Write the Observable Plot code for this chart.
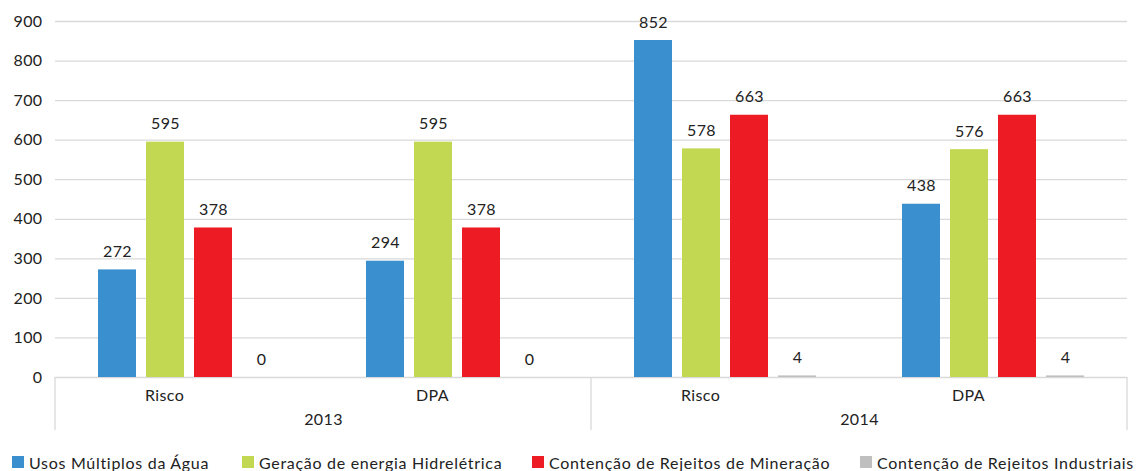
<!DOCTYPE html>
<html><head><meta charset="utf-8">
<script src="https://cdn.jsdelivr.net/npm/d3@7"></script>
<script src="https://cdn.jsdelivr.net/npm/@observablehq/plot@0.6"></script>
<style>
body{margin:0;background:#fff;font-family:Lato,sans-serif;color:#222}
#wrap{position:relative;width:1136px;height:471px;overflow:hidden}
#legend{position:absolute;left:0;top:452px;width:1136px;height:20px;font-size:16px;letter-spacing:0.7px}
.item{position:absolute;top:0;height:20px;display:flex;align-items:center;white-space:nowrap}
.sw{width:12px;height:12px;margin-right:5px}
svg text{letter-spacing:0.4px}
</style></head><body>
<div id="wrap"><div id="chart"></div><div id="legend"></div></div>
<script>
// ---- data ----
const categories = ["2013|Risco", "2013|DPA", "2014|Risco", "2014|DPA"];
const groupLabels = ["Risco", "DPA", "Risco", "DPA"];
const categoryYears = ["2013", "2013", "2014", "2014"];
const years = ["2013", "2014"];
const seriesNames = ["Usos Múltiplos da Água", "Geração de energia Hidrelétrica", "Contenção de Rejeitos de Mineração", "Contenção de Rejeitos Industriais"];
const usosMultiplos = [272, 294, 852, 438];
const geracaoHidreletrica = [595, 595, 578, 576];
const rejeitosMineracao = [378, 378, 663, 663];
const rejeitosIndustriais = [0, 0, 4, 4];
const yTicks = [0, 100, 200, 300, 400, 500, 600, 700, 800, 900];

// ---- styles / layout ----
const seriesColors = ["#3a8fce", "#c2d852", "#ed1c24", "#bfbfbf"];
const legendLeft = [12, 242, 532, 860];

const seriesValues = [usosMultiplos, geracaoHidreletrica, rejeitosMineracao, rejeitosIndustriais];
const rows = [];
seriesNames.forEach((s, si) => categories.forEach((c, ci) => rows.push({cat: c, series: s, value: seriesValues[si][ci]})));
const labelOf = new Map(categories.map((c, i) => [c, groupLabels[i]]));
const yearRows = years.map(y => {
  const idx = categoryYears.map((v, i) => v === y ? i : -1).filter(i => i >= 0);
  return {year: y, anchor: categories[idx[1]]};
});

const chart = Plot.plot({
  width: 1136, height: 440,
  marginLeft: 55, marginRight: 9, marginTop: 21, marginBottom: 63,
  style: {fontFamily: "Lato, sans-serif", fontSize: "16px", color: "#222", background: "#fff"},
  fx: {domain: categories, padding: 0, label: null},
  x: {domain: seriesNames, paddingInner: 0.214, paddingOuter: 0.842, axis: null},
  y: {domain: [0, 900], label: null},
  color: {domain: seriesNames, range: seriesColors},
  marks: [
    Plot.gridY(yTicks, {stroke: "#d9d9d9", strokeOpacity: 1, strokeWidth: 1.3}),
    Plot.axisY(yTicks, {tickSize: 0, tickPadding: 13, fontSize: 16, label: null}),
    Plot.axisFx({anchor: "bottom", tickSize: 0, tickPadding: 12, dx: -25, fontSize: 16, label: null, tickFormat: c => labelOf.get(c)}),
    Plot.barY(rows, {fx: "cat", x: "series", y: "value", fill: "series"}),
    Plot.text(rows, {fx: "cat", x: "series", y: "value", text: d => String(d.value), dy: -18, lineAnchor: "middle", fontSize: 16, fill: "#222"}),
    Plot.text(yearRows, {fx: "anchor", frameAnchor: "bottom-left", textAnchor: "middle", lineAnchor: "top", dy: 36, text: "year", fontSize: 16, fill: "#222"})
  ]
});
document.getElementById("chart").appendChild(chart);

const fx = chart.scale("fx"), ys = chart.scale("y");
const bounds = [];
categories.forEach((c, i) => { if (i === 0 || categoryYears[i] !== categoryYears[i - 1]) bounds.push(fx.apply(c)); });
bounds.push(fx.apply(categories[categories.length - 1]) + fx.bandwidth);
const y0 = ys.apply(0);
d3.select(chart).append("g").selectAll("line").data(bounds).join("line")
  .attr("x1", d => d).attr("x2", d => d).attr("y1", y0).attr("y2", y0 + 53)
  .attr("stroke", "#d9d9d9").attr("stroke-width", 1.3);

const legend = d3.select("#legend");
seriesNames.forEach((s, i) => {
  const it = legend.append("div").attr("class", "item").style("left", legendLeft[i] + "px");
  it.append("div").attr("class", "sw").style("background", seriesColors[i]);
  it.append("span").text(s);
});
</script>
</body></html>
